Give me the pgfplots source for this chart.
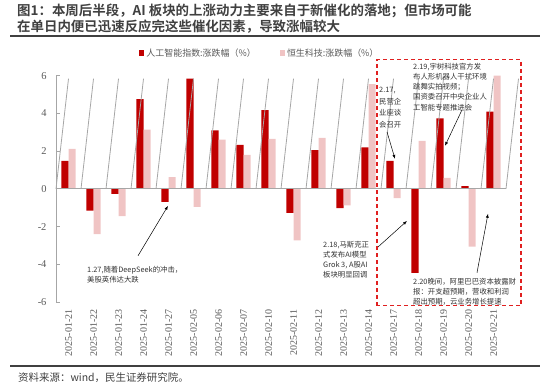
\documentclass[border=0pt]{standalone}
\usepackage{fontspec}
\setmainfont{Noto Sans CJK SC}[BoldFont={Noto Sans CJK SC Bold}]
\newfontfamily\tnr{Liberation Serif}
\usepackage{pgfplots}
\pgfplotsset{compat=1.18}
\usetikzlibrary{arrows.meta}
\definecolor{barred}{HTML}{C00000}
\definecolor{barpink}{HTML}{F0C4C4}
\definecolor{txtgray}{HTML}{595959}
\definecolor{axgray}{HTML}{A6A6A6}
\definecolor{titlegray}{HTML}{404040}
\definecolor{annogray}{HTML}{333333}
\definecolor{dashred}{HTML}{E02020}
\newcommand\anno{\fontsize{7.4}{10.3}\selectfont}
\begin{document}
\begin{tikzpicture}
\path[use as bounding box] (0,0) rectangle (550bp,386bp);
\node[anchor=base west, inner sep=0pt, font=\fontsize{13.5}{16}\selectfont\bfseries, text=titlegray] at (17bp,370bp) {图1：本周后半段，AI 板块的上涨动力主要来自于新催化的落地；但市场可能};
\node[anchor=base west, inner sep=0pt, font=\fontsize{13.5}{16}\selectfont\bfseries, text=titlegray] at (17bp,354bp) {在单日内便已迅速反应完这些催化因素，导致涨幅较大};
\draw[titlegray, line width=1.5bp] (10bp,350bp) -- (540bp,350bp);
\draw[titlegray, line width=1.2bp] (10bp,20bp) -- (540bp,20bp);
\node[anchor=base west, inner sep=0pt, font=\fontsize{10.5}{12}\selectfont, text=titlegray] at (18bp,5bp) {资料来源：wind，民生证券研究院。};
\begin{axis}[
  at={(56bp,84bp)}, anchor=south west, scale only axis,
  width=450bp, height=226.3bp,
  xmin=-0.5, xmax=17.5, ymin=-6, ymax=6,
  clip=false,
  ybar=0pt, bar width=7.2bp,
  axis y line*=left, axis x line*=bottom,
  x axis line style={draw=none},
  y axis line style={draw=axgray, line width=0.8bp, -},
  xtick={0,...,17},
  xticklabels={2025-01-21,2025-01-22,2025-01-23,2025-01-24,2025-01-27,2025-02-05,2025-02-06,2025-02-07,2025-02-10,2025-02-11,2025-02-12,2025-02-13,2025-02-14,2025-02-17,2025-02-18,2025-02-19,2025-02-20,2025-02-21},
  xtick style={draw=none},
  xticklabel style={rotate=90, anchor=east, font=\tnr\fontsize{10}{12}\selectfont, text=txtgray},
  xticklabel shift=4bp,
  ytick={-6,-4,-2,0,2,4,6},
  yticklabels={-6,-4,-2,0,2,4,6},
  ytick style={draw=axgray, line width=0.8bp},
  tick align=inside, major tick length=4bp,
  yticklabel style={font=\tnr\fontsize{10.5}{12}\selectfont, text=txtgray},
  yticklabel shift=6bp,
  legend columns=2,
  legend style={at={(0.453,1.1)}, anchor=center, draw=none, fill=none,
    font=\fontsize{9}{11}\selectfont, text=txtgray,
    /tikz/every even column/.append style={column sep=22bp}},
  legend image code/.code={\fill[#1, draw=none] (0bp,-2.6bp) rectangle (5.2bp,2.6bp);},
]
\addplot[fill=barred, draw=none] coordinates {
(0,1.48) (1,-1.16) (2,-0.26) (3,4.76) (4,-0.69) (5,5.84) (6,3.10) (7,2.33) (8,4.18)
(9,-1.27) (10,2.06) (11,-1.02) (12,2.20) (13,1.48) (14,-4.45) (15,3.74) (16,0.14) (17,4.09)};
\addlegendentry{人工智能指数:涨跌幅（\%）}
\addplot[fill=barpink, draw=none] coordinates {
(0,2.12) (1,-2.40) (2,-1.45) (3,3.14) (4,0.62) (5,-0.95) (6,2.61) (7,1.80) (8,2.65)
(9,-2.73) (10,2.70) (11,-0.88) (12,5.56) (13,-0.49) (14,2.54) (15,0.58) (16,-3.07) (17,6.00)};
\addlegendentry{恒生科技:涨跌幅（\%）}
\draw[axgray, line width=0.8bp] (axis cs:-0.5,0) -- (axis cs:17.5,0);
\pgfplotsinvokeforeach{-0.5,0.5,...,17.5}{\draw[axgray, line width=0.8bp] (axis cs:#1,0) -- ++(0,-3bp);}
% annotations
\node[anchor=west, align=left, font=\anno, text=annogray, inner sep=0pt] at (axis cs:0.74,-4.56) {1.27,随着DeepSeek的冲击，\\美股英伟达大跌};
\draw[-{Latex[length=4bp,width=3bp]}, line width=0.5bp] (axis cs:2.78,-3.55) -- (axis cs:3.98,-0.90);
\node[anchor=west, align=left, font=\fontsize{7.4}{11.5}\selectfont, text=annogray, inner sep=0pt] at (axis cs:12.42,4.3) {2.17,\\民营企\\业座谈\\会召开};
\draw[-{Latex[length=4bp,width=3bp]}, line width=0.5bp] (axis cs:12.74,3.02) -- (axis cs:13.06,1.59);
\node[anchor=west, align=left, font=\anno, text=annogray, inner sep=0pt] at (axis cs:13.78,5.41) {2.19,宇树科技官方发\\布人形机器人干扰环境\\跳舞实拍视频；\\国资委召开中央企业人\\工智能专题推进会};
\draw[-{Latex[length=4bp,width=3bp]}, line width=0.5bp] (axis cs:15.74,4.19) -- (axis cs:15.06,2.28);
\node[anchor=west, align=left, font=\anno, text=annogray, inner sep=0pt] at (axis cs:10.18,-3.76) {2.18,马斯克正\\式发布AI模型\\Grok 3, A股AI\\板块明显回调};
\draw[-{Latex[length=4bp,width=3bp]}, line width=0.5bp] (axis cs:12.34,-3.13) -- (axis cs:13.54,-1.70);
\node[anchor=west, align=left, font=\anno, text=annogray, inner sep=0pt] at (axis cs:13.78,-5.46) {2.20晚间，阿里巴巴资本披露财\\报：开支超预期，营收和利润\\超出预期，云业务增长提速};
\draw[-{Latex[length=4bp,width=3bp]}, line width=0.5bp] (axis cs:16.34,-4.45) -- (axis cs:16.78,-1.32);
\draw[dashred, line width=1.2bp, dash pattern=on 4bp off 3bp] (axis cs:12.34,-6.2) rectangle (axis cs:18.1,6.84);
\end{axis}
\end{tikzpicture}
\end{document}
